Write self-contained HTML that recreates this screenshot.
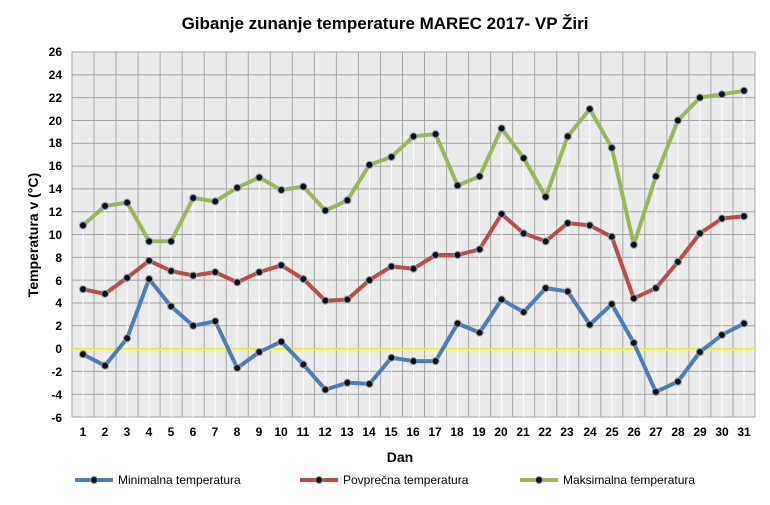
<!DOCTYPE html>
<html><head><meta charset="utf-8"><style>
body{margin:0;background:#fff;}
svg{display:block;font-family:"Liberation Sans",sans-serif;}
.t{font-size:12px;font-weight:bold;fill:#000;}
</style></head><body>
<svg id="s" width="770" height="505" viewBox="0 0 770 505">
<rect x="72" y="52" width="683" height="365" fill="#ebebeb"/>
<g id="grid" stroke="#a6a6a6" stroke-width="1"></g>
<g id="drop" stroke="#fff" stroke-width="1"></g>
<line x1="72" y1="349.4" x2="755" y2="349.4" stroke="#ffff00" stroke-width="2"/>
<g id="series"></g>
<text x="385" y="29" text-anchor="middle" style="font-size:17px;font-weight:bold">Gibanje zunanje temperature MAREC 2017- VP Žiri</text>
<g class="t" text-anchor="end">
<text x="62" y="56">26</text><text x="62" y="79">24</text><text x="62" y="102">22</text><text x="62" y="125">20</text><text x="62" y="147">18</text><text x="62" y="170">16</text><text x="62" y="193">14</text><text x="62" y="216">12</text><text x="62" y="239">10</text><text x="62" y="262">8</text><text x="62" y="285">6</text><text x="62" y="307">4</text><text x="62" y="330">2</text><text x="62" y="353">0</text><text x="62" y="376">-2</text><text x="62" y="399">-4</text><text x="62" y="422">-6</text>
</g>
<g class="t" text-anchor="middle">
<text x="83" y="436">1</text><text x="105" y="436">2</text><text x="127" y="436">3</text><text x="149" y="436">4</text><text x="171" y="436">5</text><text x="193" y="436">6</text><text x="215" y="436">7</text><text x="237" y="436">8</text><text x="259" y="436">9</text><text x="281" y="436">10</text><text x="303" y="436">11</text><text x="325" y="436">12</text><text x="347" y="436">13</text><text x="369" y="436">14</text><text x="391" y="436">15</text><text x="413" y="436">16</text><text x="435" y="436">17</text><text x="457" y="436">18</text><text x="479" y="436">19</text><text x="501" y="436">20</text><text x="523" y="436">21</text><text x="545" y="436">22</text><text x="567" y="436">23</text><text x="590" y="436">24</text><text x="612" y="436">25</text><text x="634" y="436">26</text><text x="656" y="436">27</text><text x="678" y="436">28</text><text x="700" y="436">29</text><text x="722" y="436">30</text><text x="744" y="436">31</text>
</g>
<text x="400" y="462" text-anchor="middle" style="font-size:14px;font-weight:bold">Dan</text>
<text transform="translate(38,235) rotate(-90)" text-anchor="middle" style="font-size:14px;font-weight:bold">Temperatura v (°C)</text>
<g id="leg"></g>
<g style="font-size:12px;fill:#000">
<text x="118" y="484">Minimalna temperatura</text>
<text x="343" y="484">Povprečna temperatura</text>
<text x="563" y="484">Maksimalna temperatura</text>
</g>
</svg>
<script>
var NS="http://www.w3.org/2000/svg";
function el(p,n,a){var e=document.createElementNS(NS,n);for(var k in a)e.setAttribute(k,a[k]);document.getElementById(p).appendChild(e);return e;}
function Y(v){return 52+(26-v)*365/32;}
var W=683/31;function X(i){return 72+W*(i+0.5);}
for(var v=-6;v<=26;v+=2)el("grid","line",{x1:72,x2:755,y1:Y(v),y2:Y(v)});
for(var i=0;i<=31;i++)el("grid","line",{x1:72+W*i,x2:72+W*i,y1:52,y2:417});
var mx=[10.8,12.5,12.8,9.4,9.4,13.2,12.9,14.1,15.0,13.9,14.2,12.1,13.0,16.1,16.8,18.6,18.8,14.3,15.1,19.3,16.7,13.3,18.6,21.0,17.6,9.1,15.1,20.0,22.0,22.3,22.6];
var av=[5.2,4.8,6.2,7.7,6.8,6.4,6.7,5.8,6.7,7.3,6.1,4.2,4.3,6.0,7.2,7.0,8.2,8.2,8.7,11.8,10.1,9.4,11.0,10.8,9.8,4.4,5.3,7.6,10.1,11.4,11.6];
var mn=[-0.5,-1.5,0.9,6.1,3.7,2.0,2.4,-1.7,-0.3,0.6,-1.4,-3.6,-3.0,-3.1,-0.8,-1.1,-1.1,2.2,1.4,4.3,3.2,5.3,5.0,2.1,3.9,0.5,-3.8,-2.9,-0.3,1.2,2.2];
for(var i=0;i<31;i++)el("drop","line",{x1:X(i),x2:X(i),y1:Y(mx[i]),y2:417});
function ser(d,c){var p=d.map(function(v,i){return X(i).toFixed(1)+","+Y(v).toFixed(1)}).join(" ");
el("series","polyline",{points:p,fill:"none",stroke:c,"stroke-width":4,"stroke-linejoin":"round"});
d.forEach(function(v,i){el("series","circle",{cx:X(i),cy:Y(v),r:3.5,fill:"#111",stroke:"#8a9ab8","stroke-width":1});});}
ser(mn,"#4a7ebb");ser(av,"#be4b48");ser(mx,"#98b954");
[[75,"#4a7ebb"],[300,"#be4b48"],[520,"#98b954"]].forEach(function(a){
el("leg","line",{x1:a[0],x2:a[0]+38,y1:480,y2:480,stroke:a[1],"stroke-width":4});
el("leg","circle",{cx:a[0]+19,cy:480,r:3.5,fill:"#111",stroke:"#8a9ab8"});});
</script>
</body></html>
